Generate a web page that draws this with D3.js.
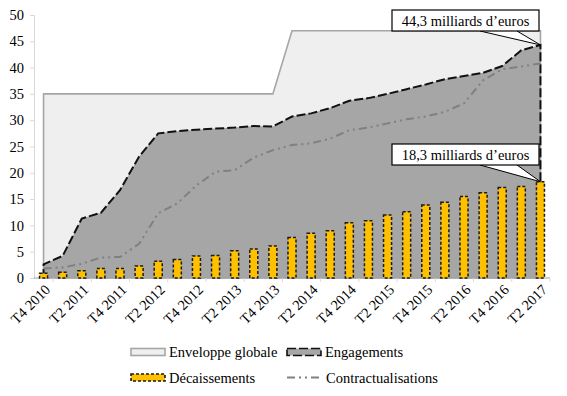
<!DOCTYPE html>
<html><head><meta charset="utf-8">
<script src="https://cdn.jsdelivr.net/npm/d3@7/dist/d3.min.js"></script>
<style>body{margin:0;background:#fff}svg{display:block}</style>
</head><body>
<script>
const categories = ["T4 2010","T1 2011","T2 2011","T3 2011","T4 2011","T1 2012","T2 2012","T3 2012","T4 2012","T1 2013","T2 2013","T3 2013","T4 2013","T1 2014","T2 2014","T3 2014","T4 2014","T1 2015","T2 2015","T3 2015","T4 2015","T1 2016","T2 2016","T3 2016","T4 2016","T1 2017","T2 2017"];
const enveloppe = [35,35,35,35,35,35,35,35,35,35,35,35,35,47,47,47,47,47,47,47,47,47,47,47,47,47,47];
const engagements = [2.6,4.2,11.3,12.4,16.7,23.1,27.5,27.9,28.2,28.4,28.6,28.9,28.8,30.7,31.3,32.3,33.7,34.2,35.0,35.9,36.8,37.8,38.4,39.0,40.3,43.3,44.3];
const contractualisations = [1.8,2.0,2.7,3.9,4.0,6.5,12.3,14.2,17.6,20.2,20.5,22.9,24.3,25.3,25.6,26.5,28.1,28.6,29.4,30.2,30.7,31.6,33.2,37.6,39.7,40.2,40.8];
const decaissements = [0.9,1.1,1.4,1.8,1.8,2.3,3.2,3.5,4.2,4.3,5.2,5.5,6.1,7.7,8.5,9.0,10.5,10.9,12.0,12.6,13.9,14.4,15.5,16.2,17.2,17.4,18.3];
const yTicks = [0,5,10,15,20,25,30,35,40,45,50];
const xLabels = categories.filter((d,i)=>i%2===0);
const annotations = [{text:"44,3 milliards d’euros", idx:26, value:44.3, top:10},{text:"18,3 milliards d’euros", idx:26, value:18.3, top:144}];

const FONT = "'Times New Roman', Times, Tinos, 'Noto Serif', 'Liberation Serif', 'DejaVu Serif', serif";
const W=567,H=396;
const svg=d3.select("body").append("svg").attr("width",W).attr("height",H).style("font-family",FONT);
const x=d3.scaleBand().domain(categories).range([34,550]).padding(0);
const y=d3.scaleLinear().domain([0,50]).range([278,15]);
const cx=d=>x(d)+x.bandwidth()/2;

// y axis
const ya=svg.append("g").attr("transform","translate(34,0)").call(d3.axisLeft(y).tickValues(yTicks).tickSize(4).tickPadding(6));
ya.attr("font-family",null).attr("font-size",14.5);
ya.select(".domain").attr("stroke","#d9d9d9");
ya.selectAll(".tick line").attr("stroke","#d9d9d9");
ya.selectAll("text").attr("fill","#000");

// envelope area
const area=d3.area().x((d,i)=>cx(categories[i])).y0(y(0)).y1(d=>y(d));
svg.append("path").datum(enveloppe).attr("d",area).attr("fill","#efefef").attr("stroke","#a6a6a6").attr("stroke-width",1.6);
// engagements area
svg.append("path").datum(engagements).attr("d",area).attr("fill","#a6a6a6").attr("stroke","none");
const engOutline=[[cx(categories[0]),y(0)]].concat(engagements.map((d,i)=>[cx(categories[i]),y(d)])).concat([[cx(categories[categories.length-1]),y(0)]]);
svg.append("path").attr("d",d3.line()(engOutline)).attr("fill","none").attr("stroke","#111").attr("stroke-width",2).attr("stroke-dasharray","9,3");

// x axis baseline & ticks
svg.append("line").attr("x1",34).attr("x2",550).attr("y1",y(0)).attr("y2",y(0)).attr("stroke","#a0a0a0").attr("stroke-width",1);
categories.forEach((c,i)=>{ if(i%2===1){ svg.append("line").attr("x1",x(c)).attr("x2",x(c)).attr("y1",y(0)).attr("y2",y(0)+4).attr("stroke","#d9d9d9");}});
svg.append("line").attr("x1",550).attr("x2",550).attr("y1",y(0)).attr("y2",y(0)+4).attr("stroke","#d9d9d9");

// contractualisations line
svg.append("path").datum(contractualisations).attr("d",d3.line().x((d,i)=>cx(categories[i])).y(d=>y(d)))
  .attr("fill","none").attr("stroke","#808080").attr("stroke-width",2).attr("stroke-dasharray","8,4,2,4,2,4");

// bars
const bw=8;
svg.append("g").selectAll("rect").data(decaissements).join("rect")
  .attr("x",(d,i)=>cx(categories[i])-bw/2).attr("width",bw)
  .attr("y",d=>y(d)).attr("height",d=>y(0)-y(d))
  .attr("fill","#ffc000").attr("stroke","#1a1a1a").attr("stroke-width",1.5).attr("stroke-dasharray","3,2");

// x labels
svg.append("g").selectAll("text").data(xLabels).join("text")
  .attr("transform",d=>`translate(${cx(d)+4},${y(0)+9}) rotate(-45)`)
  .attr("text-anchor","end").attr("dy","0.35em").attr("font-size",14.5).text(d=>d);

// annotations
annotations.forEach(a=>{
  const g=svg.append("g");
  const px=cx(categories[a.idx]), py=y(a.value);
  const bx=392,bw2=147,bh=21;
  g.append("path").attr("d",`M${480},${a.top+bh} L${px},${py} L${517},${a.top+bh}`).attr("fill","#fff").attr("stroke","#000").attr("stroke-width",1);
  g.append("rect").attr("x",bx).attr("y",a.top).attr("width",bw2).attr("height",bh).attr("fill","#fff").attr("stroke","#000").attr("stroke-width",1.2);
  g.append("text").attr("x",bx+bw2/2).attr("y",a.top+bh/2).attr("dy","0.35em").attr("text-anchor","middle").attr("font-size",14.5).text(a.text);
});

// legend
const lg=svg.append("g");
function sw(xp,yc,fill,stroke,dash){lg.append("rect").attr("x",xp).attr("y",yc-3.5).attr("width",34).attr("height",7).attr("fill",fill).attr("stroke",stroke).attr("stroke-width",1.6).attr("stroke-dasharray",dash);}
sw(131,352,"#efefef","#a6a6a6",null);
sw(287,352,"#a6a6a6","#111","9,3");
sw(131,377.5,"#ffc000","#1a1a1a","3,2");
lg.append("line").attr("x1",287).attr("x2",321).attr("y1",377.5).attr("y2",377.5).attr("stroke","#808080").attr("stroke-width",2).attr("stroke-dasharray","8,4,2,4,2,4");
const lt=[["Enveloppe globale",169,352],["Engagements",325,352],["Décaissements",169,377.5],["Contractualisations",326,377.5]];
lg.selectAll("text").data(lt).join("text").attr("x",d=>d[1]).attr("y",d=>d[2]).attr("dy","0.35em").attr("font-size",14.5).text(d=>d[0]);
</script>
</body></html>
